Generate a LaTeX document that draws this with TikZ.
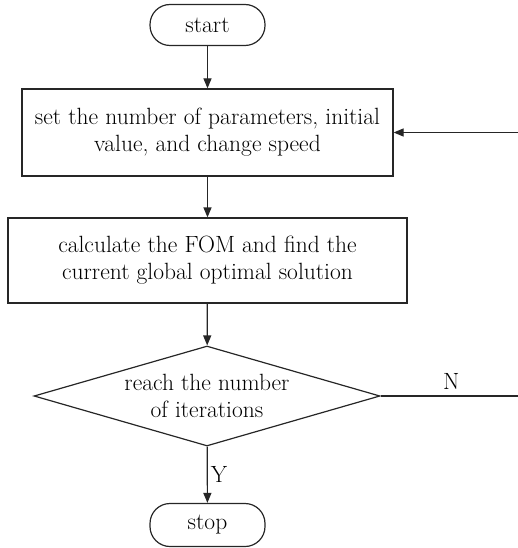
\documentclass[tikz,border=0pt]{standalone}
\usetikzlibrary{arrows.meta,shapes.geometric}
\begin{document}
\begin{tikzpicture}[x=1pt,y=-1pt,
  txt/.style={font=\fontsize{23.5}{27}\selectfont},
  line/.style={line width=1.2pt, draw=black!85},
  arr/.style={line, -{Triangle[length=10pt,width=8pt]}},
  term/.style={txt, line, rectangle, rounded corners=20pt, minimum width=115pt, minimum height=41pt, inner sep=0pt},
  proc/.style={txt, line, rectangle, align=center, inner sep=0pt},
  dec/.style={txt, line, diamond, aspect=3.46, minimum width=346pt, minimum height=100pt, inner sep=0pt, align=center}]
\useasboundingbox (0,0) rectangle (517,548);
\node[term] (start) at (207.5,25) {start};
\node[proc, minimum width=371pt, minimum height=87pt] (b1) at (207.5,132.5) {set the number of parameters, initial\\value, and change speed};
\node[proc, minimum width=399pt, minimum height=85pt] (b2) at (207.5,260.5) {calculate the FOM and find the\\current global optimal solution};
\node[dec] (d) at (207,396) {reach the number\\of iterations};
\node[term, minimum height=43pt] (stop) at (207.5,525) {stop};
\coordinate (r1) at (522,396);
\coordinate (r2) at (522,132.5);
\draw[arr] (start) -- (b1);
\draw[arr] (b1) -- (b2);
\draw[arr] (b2) -- (d);
\draw[arr] (d) -- node[txt, right, inner sep=3pt] (ylab) {Y} (stop);
\draw[arr] (d.east) -- node[txt, above, pos=0.5, inner sep=6pt] (nlab) {N} (r1) -- (r2) -- (b1.east);
\end{tikzpicture}
\end{document}
